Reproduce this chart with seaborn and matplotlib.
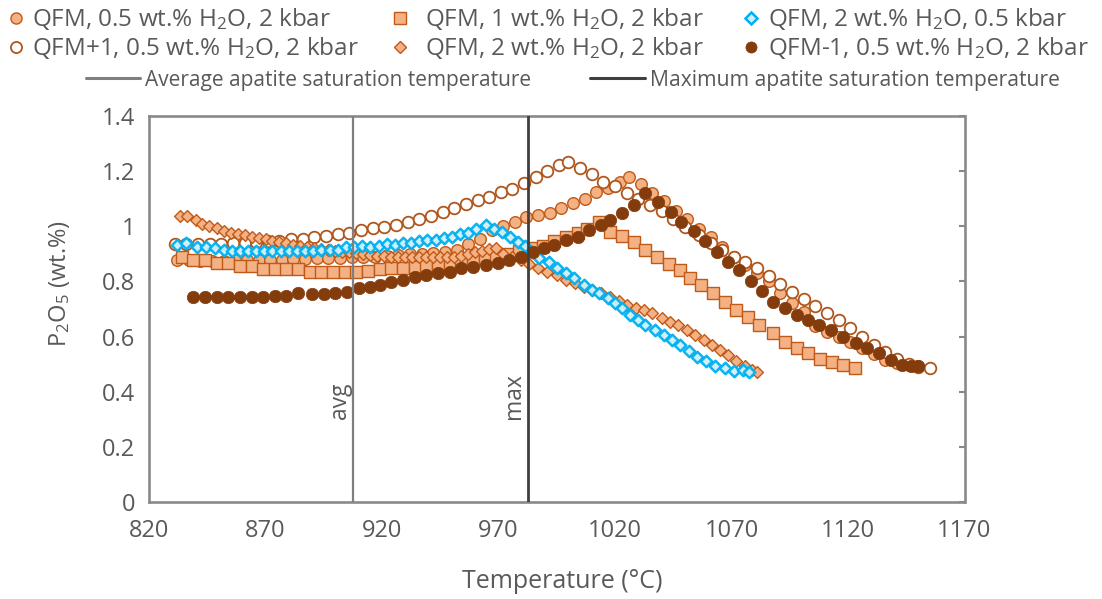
import matplotlib
matplotlib.use("Agg")
import matplotlib.pyplot as plt
from matplotlib.lines import Line2D
import seaborn as sns

# ---------------- data ----------------
# QFM, 0.5 wt.% H2O, 2 kbar
t_qfm_05 = [832, 837, 842, 847, 852, 857, 862, 867, 872, 877, 882, 887, 892, 897, 902,
            907, 912, 917, 922, 927, 932, 937, 942, 947, 952, 957, 962, 967, 972, 977,
            982, 987, 992, 997, 1002, 1007, 1012, 1017, 1022, 1026, 1031, 1036, 1041,
            1046, 1051, 1056, 1061, 1066, 1071, 1076, 1081, 1086, 1091, 1096, 1101, 1106,
            1111, 1116, 1121, 1126, 1131, 1136, 1141, 1146, 1150]
p_qfm_05 = [0.878, 0.878, 0.875, 0.875, 0.875, 0.876, 0.876, 0.877, 0.878, 0.879, 0.880,
            0.882, 0.884, 0.884, 0.886, 0.887, 0.888, 0.890, 0.892, 0.895, 0.898, 0.900,
            0.904, 0.908, 0.915, 0.935, 0.955, 0.985, 1.000, 1.017, 1.032, 1.042, 1.050,
            1.068, 1.085, 1.100, 1.125, 1.140, 1.160, 1.180, 1.155, 1.120, 1.090, 1.055,
            1.025, 0.990, 0.960, 0.925, 0.890, 0.860, 0.830, 0.800, 0.757, 0.720, 0.690,
            0.640, 0.618, 0.600, 0.580, 0.557, 0.535, 0.515, 0.503, 0.497, 0.495]

# QFM+1, 0.5 wt.% H2O, 2 kbar
t_qfm_p1 = [831, 836, 841, 846, 851, 856, 861, 866, 871, 876, 881, 886, 891, 896, 901,
            906, 911, 916, 921, 926, 931, 936, 941, 946, 951, 956, 961, 966, 971, 976,
            981, 986, 991, 996, 1000, 1005, 1010, 1015, 1020, 1025, 1030, 1035, 1040,
            1045, 1050, 1056, 1061, 1066, 1071, 1076, 1081, 1086, 1091, 1096, 1101, 1106,
            1111, 1116, 1121, 1126, 1131, 1136, 1141, 1146, 1150, 1155]
p_qfm_p1 = [0.935, 0.935, 0.935, 0.935, 0.937, 0.938, 0.940, 0.942, 0.945, 0.948, 0.953,
            0.955, 0.960, 0.966, 0.971, 0.977, 0.985, 0.992, 0.997, 1.005, 1.017, 1.028,
            1.038, 1.053, 1.065, 1.080, 1.095, 1.107, 1.124, 1.135, 1.157, 1.180, 1.200,
            1.222, 1.234, 1.210, 1.188, 1.162, 1.145, 1.120, 1.100, 1.077, 1.055, 1.027,
            0.997, 0.968, 0.938, 0.914, 0.887, 0.870, 0.850, 0.820, 0.790, 0.760, 0.735,
            0.710, 0.685, 0.660, 0.630, 0.600, 0.570, 0.543, 0.520, 0.500, 0.490, 0.485]

# QFM, 1 wt.% H2O, 2 kbar
t_qfm_1w = [834, 839, 844, 849, 854, 859, 864, 869, 874, 879, 884, 889, 894, 899, 904,
            909, 914, 919, 924, 929, 934, 939, 944, 949, 954, 959, 964, 969, 974, 979,
            984, 989, 994, 999, 1004, 1008, 1013, 1018, 1023, 1028, 1033, 1038, 1043,
            1048, 1052, 1057, 1062, 1067, 1072, 1077, 1082, 1088, 1093, 1098, 1103, 1108,
            1113, 1118, 1123]
p_qfm_1w = [0.887, 0.878, 0.878, 0.868, 0.868, 0.857, 0.857, 0.845, 0.845, 0.845, 0.845,
            0.835, 0.835, 0.835, 0.835, 0.835, 0.838, 0.845, 0.848, 0.850, 0.853, 0.857,
            0.860, 0.864, 0.870, 0.876, 0.885, 0.890, 0.900, 0.910, 0.920, 0.930, 0.945,
            0.960, 0.975, 0.990, 1.015, 0.980, 0.965, 0.942, 0.914, 0.890, 0.862, 0.840,
            0.812, 0.787, 0.757, 0.727, 0.697, 0.672, 0.642, 0.612, 0.581, 0.557, 0.539,
            0.520, 0.509, 0.497, 0.485]

# QFM, 2 wt.% H2O, 2 kbar
t_qfm_2w = [833.5, 836.3, 840, 842.7, 845.6, 849, 852, 855, 858, 861, 864, 867, 870, 873,
            876, 879, 882, 885, 888, 891, 894, 897, 900, 903, 906, 909, 912, 915, 918,
            921, 924, 927, 930, 933, 936, 939, 942, 945, 948, 951, 954, 957, 960, 963,
            966, 969, 972, 976, 979.5, 983, 987, 991, 995, 999, 1003, 1006.8, 1010, 1014,
            1018, 1021.7, 1025, 1028.8, 1032.4, 1036, 1040, 1043.8, 1047, 1051, 1054.5,
            1058, 1061.6, 1065, 1068.7, 1072, 1075.8, 1078.7, 1081]
p_qfm_2w = [1.037, 1.037, 1.022, 1.008, 1.000, 0.993, 0.984, 0.977, 0.972, 0.967, 0.962,
            0.956, 0.953, 0.948, 0.944, 0.938, 0.932, 0.928, 0.924, 0.920, 0.917, 0.914,
            0.911, 0.908, 0.905, 0.902, 0.899, 0.896, 0.894, 0.892, 0.890, 0.889, 0.888,
            0.887, 0.887, 0.887, 0.887, 0.887, 0.888, 0.889, 0.892, 0.900, 0.905, 0.910,
            0.916, 0.920, 0.900, 0.890, 0.876, 0.862, 0.848, 0.836, 0.822, 0.806, 0.793,
            0.781, 0.769, 0.757, 0.745, 0.728, 0.714, 0.702, 0.695, 0.684, 0.666, 0.654,
            0.642, 0.624, 0.606, 0.588, 0.569, 0.551, 0.533, 0.512, 0.493, 0.480, 0.473]

# QFM, 2 wt.% H2O, 0.5 kbar
t_qfm_2w_lp = [832, 836, 840.5, 844.5, 848.5, 852, 855.5, 859, 862.5, 866, 869.5, 873,
               876.5, 880, 883.5, 887, 890.5, 894, 897.5, 901, 904.5, 908, 911.5, 915,
               918.5, 922, 925.5, 929, 932.5, 936, 939.5, 943, 946.5, 950, 953.5, 957,
               960.5, 964.5, 968, 971.5, 975, 978.5, 981.5, 984.5, 987.5, 991.5, 995, 999,
               1002.5, 1006.5, 1010, 1013, 1017, 1020, 1023, 1026.6, 1030, 1033, 1037,
               1041, 1044.5, 1048, 1051.6, 1055, 1059, 1063, 1067, 1071, 1075, 1077.5]
p_qfm_2w_lp = [0.932, 0.938, 0.925, 0.924, 0.920, 0.914, 0.912, 0.910, 0.911, 0.911,
               0.911, 0.911, 0.911, 0.911, 0.912, 0.912, 0.912, 0.913, 0.913, 0.915,
               0.924, 0.926, 0.928, 0.926, 0.930, 0.934, 0.932, 0.938, 0.940, 0.948,
               0.950, 0.952, 0.956, 0.962, 0.972, 0.975, 0.990, 1.005, 0.990, 0.978,
               0.960, 0.944, 0.930, 0.905, 0.885, 0.872, 0.849, 0.829, 0.811, 0.788,
               0.770, 0.757, 0.739, 0.720, 0.703, 0.678, 0.660, 0.642, 0.624, 0.606,
               0.588, 0.569, 0.546, 0.527, 0.510, 0.492, 0.485, 0.474, 0.479, 0.473]

# QFM-1, 0.5 wt.% H2O, 2 kbar
t_qfm_m1 = [839, 844, 849, 854, 859, 864, 869, 874, 879, 884, 890, 895, 900, 905, 910,
            915, 919, 924, 929, 934, 939, 944, 949, 954, 959, 964.7, 969.7, 974.7, 979.7,
            984.7, 989.7, 994, 999, 1004, 1009, 1014, 1018, 1023, 1028, 1033, 1038.5,
            1044, 1048.5, 1053.8, 1058.7, 1063.7, 1068.3, 1073.3, 1078.3, 1083, 1088,
            1093, 1098, 1103, 1107.5, 1112.5, 1118, 1123.3, 1128.3, 1133.3, 1138.3,
            1143.3, 1147, 1150]
p_qfm_m1 = [0.745, 0.745, 0.745, 0.745, 0.745, 0.745, 0.745, 0.746, 0.747, 0.757, 0.754,
            0.754, 0.757, 0.763, 0.775, 0.781, 0.787, 0.799, 0.805, 0.817, 0.823, 0.829,
            0.835, 0.847, 0.853, 0.860, 0.866, 0.878, 0.887, 0.908, 0.920, 0.932, 0.950,
            0.962, 0.987, 1.005, 1.023, 1.047, 1.077, 1.120, 1.089, 1.053, 1.017, 0.983,
            0.947, 0.908, 0.872, 0.840, 0.800, 0.767, 0.727, 0.702, 0.679, 0.660, 0.642,
            0.624, 0.600, 0.578, 0.557, 0.539, 0.516, 0.497, 0.494, 0.494]

# apatite saturation temperatures (deg C)
t_sat_avg = 907.7
t_sat_max = 982.6

x_ticks = [820, 870, 920, 970, 1020, 1070, 1120, 1170]
y_ticks = [0, 0.2, 0.4, 0.6, 0.8, 1.0, 1.2, 1.4]
y_tick_labels = ["0", "0.2", "0.4", "0.6", "0.8", "1", "1.2", "1.4"]

labels = ["QFM, 0.5 wt.% H$_2$O, 2 kbar",
          "QFM+1, 0.5 wt.% H$_2$O, 2 kbar",
          "QFM, 1 wt.% H$_2$O, 2 kbar",
          "QFM, 2 wt.% H$_2$O, 2 kbar",
          "QFM, 2 wt.% H$_2$O, 0.5 kbar",
          "QFM-1, 0.5 wt.% H$_2$O, 2 kbar"]

# ---------------- style ----------------
sns.set_style("white")
plt.rcParams["font.family"] = ["Open Sans", "DejaVu Sans"]
plt.rcParams["mathtext.default"] = "regular"
plt.rcParams["mathtext.fontset"] = "custom"
plt.rcParams["mathtext.rm"] = "Open Sans"

TXT = "#595959"
AX = "#898989"
LIGHT = "#F4B183"
EDGE = "#C05A18"
DARK = "#843C0C"
BLUE = "#00B0F0"

styles = [
    dict(marker="o", s=70, color=LIGHT, edgecolor=EDGE, linewidth=1.0),
    dict(marker="o", s=70, color="white", edgecolor="#B0561C", linewidth=1.3),
    dict(marker="s", s=66, color=LIGHT, edgecolor=EDGE, linewidth=1.0),
    dict(marker="D", s=36, color=LIGHT, edgecolor=EDGE, linewidth=1.0),
    dict(marker="D", s=34, color="#CDEFFB", edgecolor=BLUE, linewidth=1.8, alpha=0.95),
    dict(marker="o", s=80, color=DARK, edgecolor=DARK, linewidth=0.5),
]
series = [(t_qfm_05, p_qfm_05), (t_qfm_p1, p_qfm_p1), (t_qfm_1w, p_qfm_1w),
          (t_qfm_2w, p_qfm_2w), (t_qfm_2w_lp, p_qfm_2w_lp), (t_qfm_m1, p_qfm_m1)]

W, H = 1102, 599
fig = plt.figure(figsize=(W / 100, H / 100), dpi=100)
ax = fig.add_axes([149 / W, 1 - 502 / H, (964.5 - 149) / W, (502 - 116) / H])

for (tx, py), st in zip(series, styles):
    sns.scatterplot(x=tx, y=py, ax=ax, legend=False, zorder=3, **st)

ax.axvline(t_sat_avg, color="#7F7F7F", lw=1.6, zorder=5)
ax.axvline(t_sat_max, color="#3F3F3F", lw=2.0, zorder=5)
ax.text(t_sat_avg - 0.6, 0.3, "avg", rotation=90, ha="right", va="bottom",
        fontsize=16.5, color=TXT)
ax.text(t_sat_max - 0.6, 0.3, "max", rotation=90, ha="right", va="bottom",
        fontsize=16.5, color=TXT)

ax.set_xlim(820, 1170)
ax.set_ylim(0, 1.4)
ax.set_xticks(x_ticks)
ax.set_yticks(y_ticks)
ax.set_yticklabels(y_tick_labels)
for sp in ax.spines.values():
    sp.set_visible(True)
    sp.set_color(AX)
    sp.set_linewidth(1.9)
ax.tick_params(axis="both", direction="in", length=4.5, width=1.5, color=AX,
               labelcolor=TXT, labelsize=17, pad=10)
ax.tick_params(axis="y", right=True)
ax.tick_params(axis="x", pad=12)

ax.set_xlabel("Temperature (°C)", fontsize=18, color=TXT)
ax.xaxis.set_label_coords((562 - 149) / 815.5, (502 - 582) / 386)
ax.xaxis.label.set_va("center")
ax.set_ylabel("P$_2$O$_5$ (wt.%)", fontsize=17, color=TXT)
ax.yaxis.label.set_va("center")
ax.yaxis.set_label_coords((59 - 149) / 815.5, (502 - 283.5) / 386)


# ---------------- legend (figure coordinates in pixels from top-left) ----------------
def fx(x):
    return x / W


def fy(y):
    return 1 - y / H


leg_pos = [(16, 18, 32, 26), (16, 47, 32, 55), (400, 18, 425, 26),
           (400, 47, 425, 55), (751, 18, 768, 26), (751, 47, 768, 55)]
leg_ms = [8, 8, 9, 6.5, 6.5, 8]
for (mx, my, tx0, ty), st, lab, ms in zip(leg_pos, styles, labels, leg_ms):
    fig.add_artist(Line2D([fx(mx)], [fy(my)], marker=st["marker"], ms=ms,
                          mfc=st["color"], mec=st["edgecolor"], mew=st["linewidth"],
                          ls="none", transform=fig.transFigure))
    fig.text(fx(tx0), fy(ty), lab, ha="left", va="baseline", fontsize=17.5, color=TXT)

fig.add_artist(Line2D([fx(86), fx(140)], [fy(78), fy(78)], color="#7F7F7F", lw=2.2,
                      transform=fig.transFigure))
fig.text(fx(145), fy(86), "Average apatite saturation temperature", ha="left",
         va="baseline", fontsize=15, color=TXT)
fig.add_artist(Line2D([fx(590), fx(645)], [fy(78), fy(78)], color="#3F3F3F", lw=2.2,
                      transform=fig.transFigure))
fig.text(fx(650), fy(86), "Maximum apatite saturation temperature", ha="left",
         va="baseline", fontsize=15.2, color=TXT)

fig.savefig("out.png", dpi=100)
